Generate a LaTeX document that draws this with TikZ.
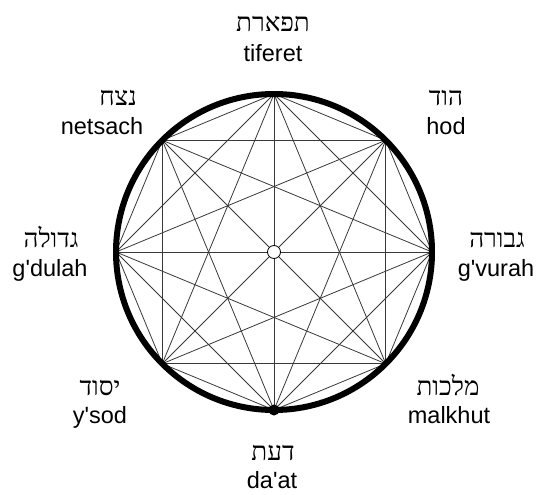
\documentclass[tikz,border=0pt]{standalone}
\usepackage{fontspec}
\setmainfont{Liberation Sans}[Ligatures=TeXOff]
\newfontfamily\hebrewfont[Script=Hebrew]{Liberation Serif}
\TeXXeTstate=1
\usetikzlibrary{calc}
\tikzset{
    sefirot diagram/.style = {x=1pt, y=-1pt},
    rim/.style             = {line width=6pt},
    chord/.style           = {line width=0.8pt, black!78},
    hub/.style             = {draw, circle, fill=white, line width=0.8pt,
                              inner sep=0pt, minimum size=13pt},
    pole/.style            = {circle, fill, inner sep=0pt, minimum size=11pt},
    heb/.style             = {anchor=base, inner sep=0pt,
                              font=\hebrewfont\fontsize{26}{30}\selectfont},
    lat/.style             = {anchor=base, inner sep=0pt,
                              font=\fontsize{23.5}{28}\selectfont}
}
\newcommand{\hebtext}[1]{\beginR #1\endR}
\def\rimradius{158pt}

\begin{document}
\begin{tikzpicture}[sefirot diagram]
\useasboundingbox (0,0) rectangle (538,495);

% Eight points on the rim, starting at the top and going clockwise.
\coordinate (c) at (274,252);
\foreach \i in {0,...,7}
    \path (c) ++({90-45*\i}:\rimradius) coordinate (v\i);

% Every point joined to every other one.
\foreach \i in {0,...,7}
    \foreach \j in {0,...,7}
        {\ifnum\i<\j \draw[chord] (v\i) -- (v\j); \fi}

% Rim, centre and the lower pole.
\draw[rim] (c) circle[radius=\rimradius];
\node[hub] (hub) at (c) {};
\node[pole] (bottom) at (v4) {};

% Names, Hebrew above the transliteration.
\foreach \name/\hebrew/\latin/\hx/\lx/\hy/\ly in {
        tiferet/תפארת/tiferet/273/273/32/62,
        netsach/נצח/netsach/118/102/105/134,
        hod/הוד/hod/446/446/105/134,
        gdulah/גדולה/g'dulah/51/50/247/276,
        gvurah/גבורה/g'vurah/497/496/247/276,
        ysod/יסוד/y'sod/100/100/395/423,
        malkhut/מלכות/malkhut/448/449/395/423,
        daat/דעת/da'at/273/272/460/488} {
    \node[heb] (\name-heb) at (\hx,\hy) {\hebtext{\hebrew}};
    \node[lat] (\name) at (\lx,\ly) {\latin};
}

\end{tikzpicture}
\end{document}
